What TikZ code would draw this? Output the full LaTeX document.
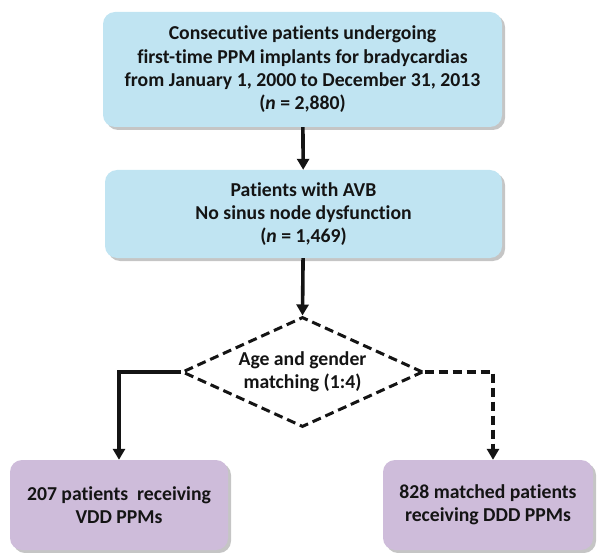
\documentclass[tikz,border=0pt]{standalone}
\usepackage{fontspec}
\setmainfont{Carlito}[Ligatures=NoCommon]
\usetikzlibrary{shapes.geometric,arrows.meta,shadows}
\definecolor{boxblue}{RGB}{192,228,242}
\definecolor{boxpurple}{RGB}{206,188,218}
\definecolor{ink}{RGB}{20,20,20}
\begin{document}
\begin{tikzpicture}[x=1pt,y=-1pt,
  every node/.style={font=\fontsize{19.7}{23.3}\selectfont\bfseries, text=ink, align=center},
  bluebox/.style={rectangle, rounded corners=12pt, fill=boxblue, draw=none,
    drop shadow={shadow xshift=3pt, shadow yshift=-3pt, fill=black!45, opacity=0.5}},
  purplebox/.style={rectangle, rounded corners=12pt, fill=boxpurple, draw=none,
    drop shadow={shadow xshift=3pt, shadow yshift=-3pt, fill=black!45, opacity=0.5}},
  decision/.style={diamond, draw=ink, dash pattern=on 9pt off 5pt, line width=3pt,
    aspect=2.19, inner sep=0pt, minimum width=241pt, minimum height=110pt, fill=white},
  arr/.style={draw=ink, line width=3.6pt, -{Triangle[length=11pt,width=12pt]}},
  dasharr/.style={arr, dash pattern=on 9pt off 5pt}
]
\useasboundingbox (0,0) rectangle (599,553);
\node[bluebox, minimum width=399pt, minimum height=115pt] (top) at (302.5,69.5)
  {Consecutive patients undergoing\\first-time PPM implants for bradycardias\\from January 1, 2000 to December 31, 2013\\(\textit{n} = 2,880)};
\node[bluebox, minimum width=397pt, minimum height=88pt] (mid) at (303.5,214)
  {Patients with AVB\\No sinus node dysfunction\\(\textit{n} = 1,469)};
\node[decision] (dia) at (302.5,372) {Age and gender\\matching (1:4)};
\node[purplebox, minimum width=218pt, minimum height=90pt] (left) at (119,505)
  {207 patients\ \ receiving\\VDD PPMs};
\node[purplebox, minimum width=210pt, minimum height=90pt] (right) at (488,505)
  {828 matched patients\\receiving DDD PPMs};
\draw[arr] (top) -- (mid);
\draw[arr] (mid) -- (dia.north);
\draw[arr] (dia.west) -| (left.north);
\draw[dasharr] (dia.east) -| ([xshift=5pt]right.north);
\end{tikzpicture}
\end{document}
